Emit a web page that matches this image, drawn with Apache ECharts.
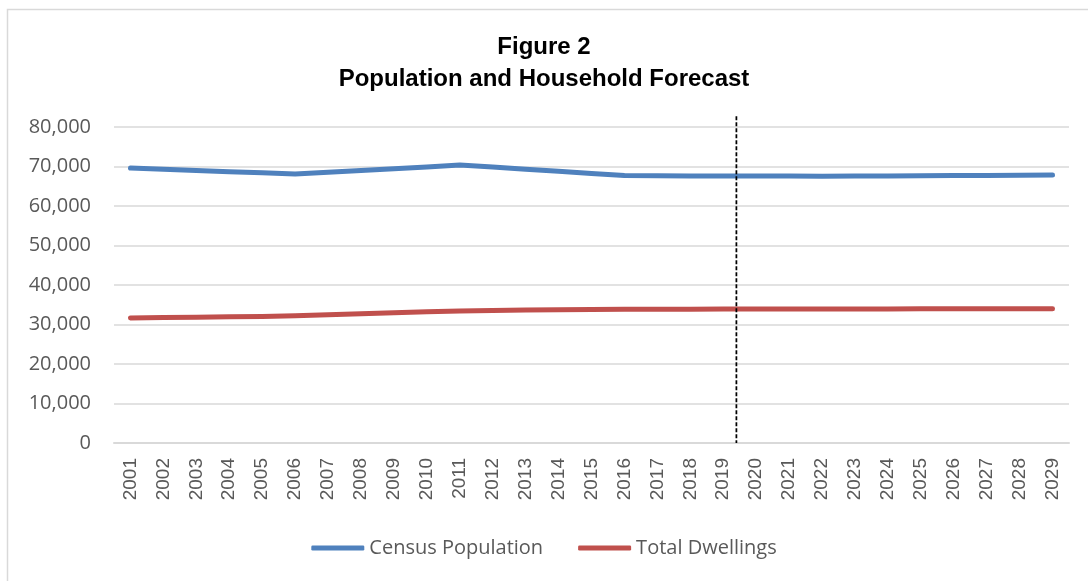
<!DOCTYPE html>
<html>
<head>
<meta charset="utf-8">
<script src="https://cdn.jsdelivr.net/npm/echarts@6/dist/echarts.min.js"></script>
<style>
  html, body { margin: 0; padding: 0; background: #ffffff; }
  #chart { width: 1088px; height: 581px; }
</style>
</head>
<body>
<div id="chart"></div>
<script>
// Years on the category axis
const years = ['2001','2002','2003','2004','2005','2006','2007','2008','2009','2010',
               '2011','2012','2013','2014','2015','2016','2017','2018','2019','2020',
               '2021','2022','2023','2024','2025','2026','2027','2028','2029'];

// Census population by year
const censusPopulation = [69600, 69300, 69000, 68700, 68400, 68100, 68550, 69000, 69450, 69900,
                          70350, 69850, 69300, 68800, 68250, 67700, 67650, 67620, 67600, 67600,
                          67580, 67560, 67580, 67620, 67660, 67700, 67750, 67800, 67850];

// Total dwellings by year
const totalDwellings = [31650, 31750, 31850, 31950, 32050, 32200, 32450, 32700, 32950, 33200,
                        33400, 33550, 33650, 33750, 33800, 33850, 33870, 33890, 33900, 33910,
                        33920, 33930, 33940, 33950, 33960, 33970, 33980, 33990, 34000];

// Y axis ticks
const yMin = 0, yMax = 80000, yStep = 10000;

// Start of the forecast period (between 2019 and 2020) and top of the marker line
const forecastYear = '2019';
const forecastOffset = 0.4;
const markerTopValue = 82700;

const chart = echarts.init(document.getElementById('chart'), null, { renderer: 'canvas' });

const labelColor = '#595959';
const gridColor = '#d9d9d9';

chart.setOption({
  backgroundColor: '#ffffff',
  animation: false,
  title: {
    text: 'Figure 2\nPopulation and Household Forecast',
    left: 'center',
    top: 31,
    padding: 0,
    textStyle: {
      fontFamily: '"Liberation Sans Narrow", "Liberation Sans", Arial, sans-serif',
      fontWeight: 'bold',
      fontSize: 24,
      lineHeight: 32,
      color: '#000000'
    }
  },
  legend: {
    bottom: 18,
    left: 'center',
    icon: 'roundRect',
    itemWidth: 53,
    itemHeight: 5,
    itemGap: 35,
    textStyle: {
      fontFamily: '"Open Sans", "Liberation Sans", sans-serif',
      fontSize: 20,
      color: labelColor
    },
    data: ['Census Population', 'Total Dwellings']
  },
  grid: {
    left: 114,
    right: 19,
    top: 127,
    bottom: 138,
    containLabel: false
  },
  xAxis: {
    type: 'category',
    data: years,
    boundaryGap: true,
    axisLine: { show: true, lineStyle: { color: gridColor, width: 2 } },
    axisTick: { show: false },
    axisLabel: {
      rotate: 90,
      interval: 0,
      margin: 15,
      fontFamily: '"Liberation Sans", Arial, sans-serif',
      fontSize: 19,
      color: labelColor
    },
    splitLine: { show: false }
  },
  yAxis: {
    type: 'value',
    min: yMin,
    max: yMax,
    interval: yStep,
    axisLine: { show: false },
    axisTick: { show: false },
    axisLabel: {
      margin: 23,
      fontFamily: '"Open Sans", "Liberation Sans", sans-serif',
      fontSize: 20,
      color: labelColor,
      formatter: v => v.toLocaleString('en-US')
    },
    splitLine: { show: true, lineStyle: { color: gridColor, width: 1.5 } }
  },
  series: [
    {
      name: 'Census Population',
      type: 'line',
      data: censusPopulation,
      symbol: 'none',
      smooth: false,
      lineStyle: { color: '#4F81BD', width: 5, cap: 'round', join: 'round' },
      itemStyle: { color: '#4F81BD' }
    },
    {
      name: 'Total Dwellings',
      type: 'line',
      data: totalDwellings,
      symbol: 'none',
      smooth: false,
      lineStyle: { color: '#C0504D', width: 5, cap: 'round', join: 'round' },
      itemStyle: { color: '#C0504D' }
    }
  ]
});

// Dashed marker at the start of the forecast period, plus the chart frame
const idx = years.indexOf(forecastYear);
const xa = chart.convertToPixel({ xAxisIndex: 0 }, years[idx]);
const xb = chart.convertToPixel({ xAxisIndex: 0 }, years[idx + 1]);
const markerX = xa + forecastOffset * (xb - xa);
const markerTop = chart.convertToPixel({ yAxisIndex: 0 }, markerTopValue);
const markerBottom = chart.convertToPixel({ yAxisIndex: 0 }, yMin);

chart.setOption({
  graphic: [
    {
      type: 'rect',
      shape: { x: 7.5, y: 9.5, width: 1100, height: 600 },
      style: { fill: 'none', stroke: gridColor, lineWidth: 1.5 },
      silent: true,
      z: -1
    },
    {
      type: 'line',
      shape: { x1: markerX, y1: markerTop, x2: markerX, y2: markerBottom },
      style: { stroke: '#000000', lineWidth: 1.75, lineDash: [4, 2] },
      silent: true,
      z: 100
    }
  ]
});
</script>
</body>
</html>
